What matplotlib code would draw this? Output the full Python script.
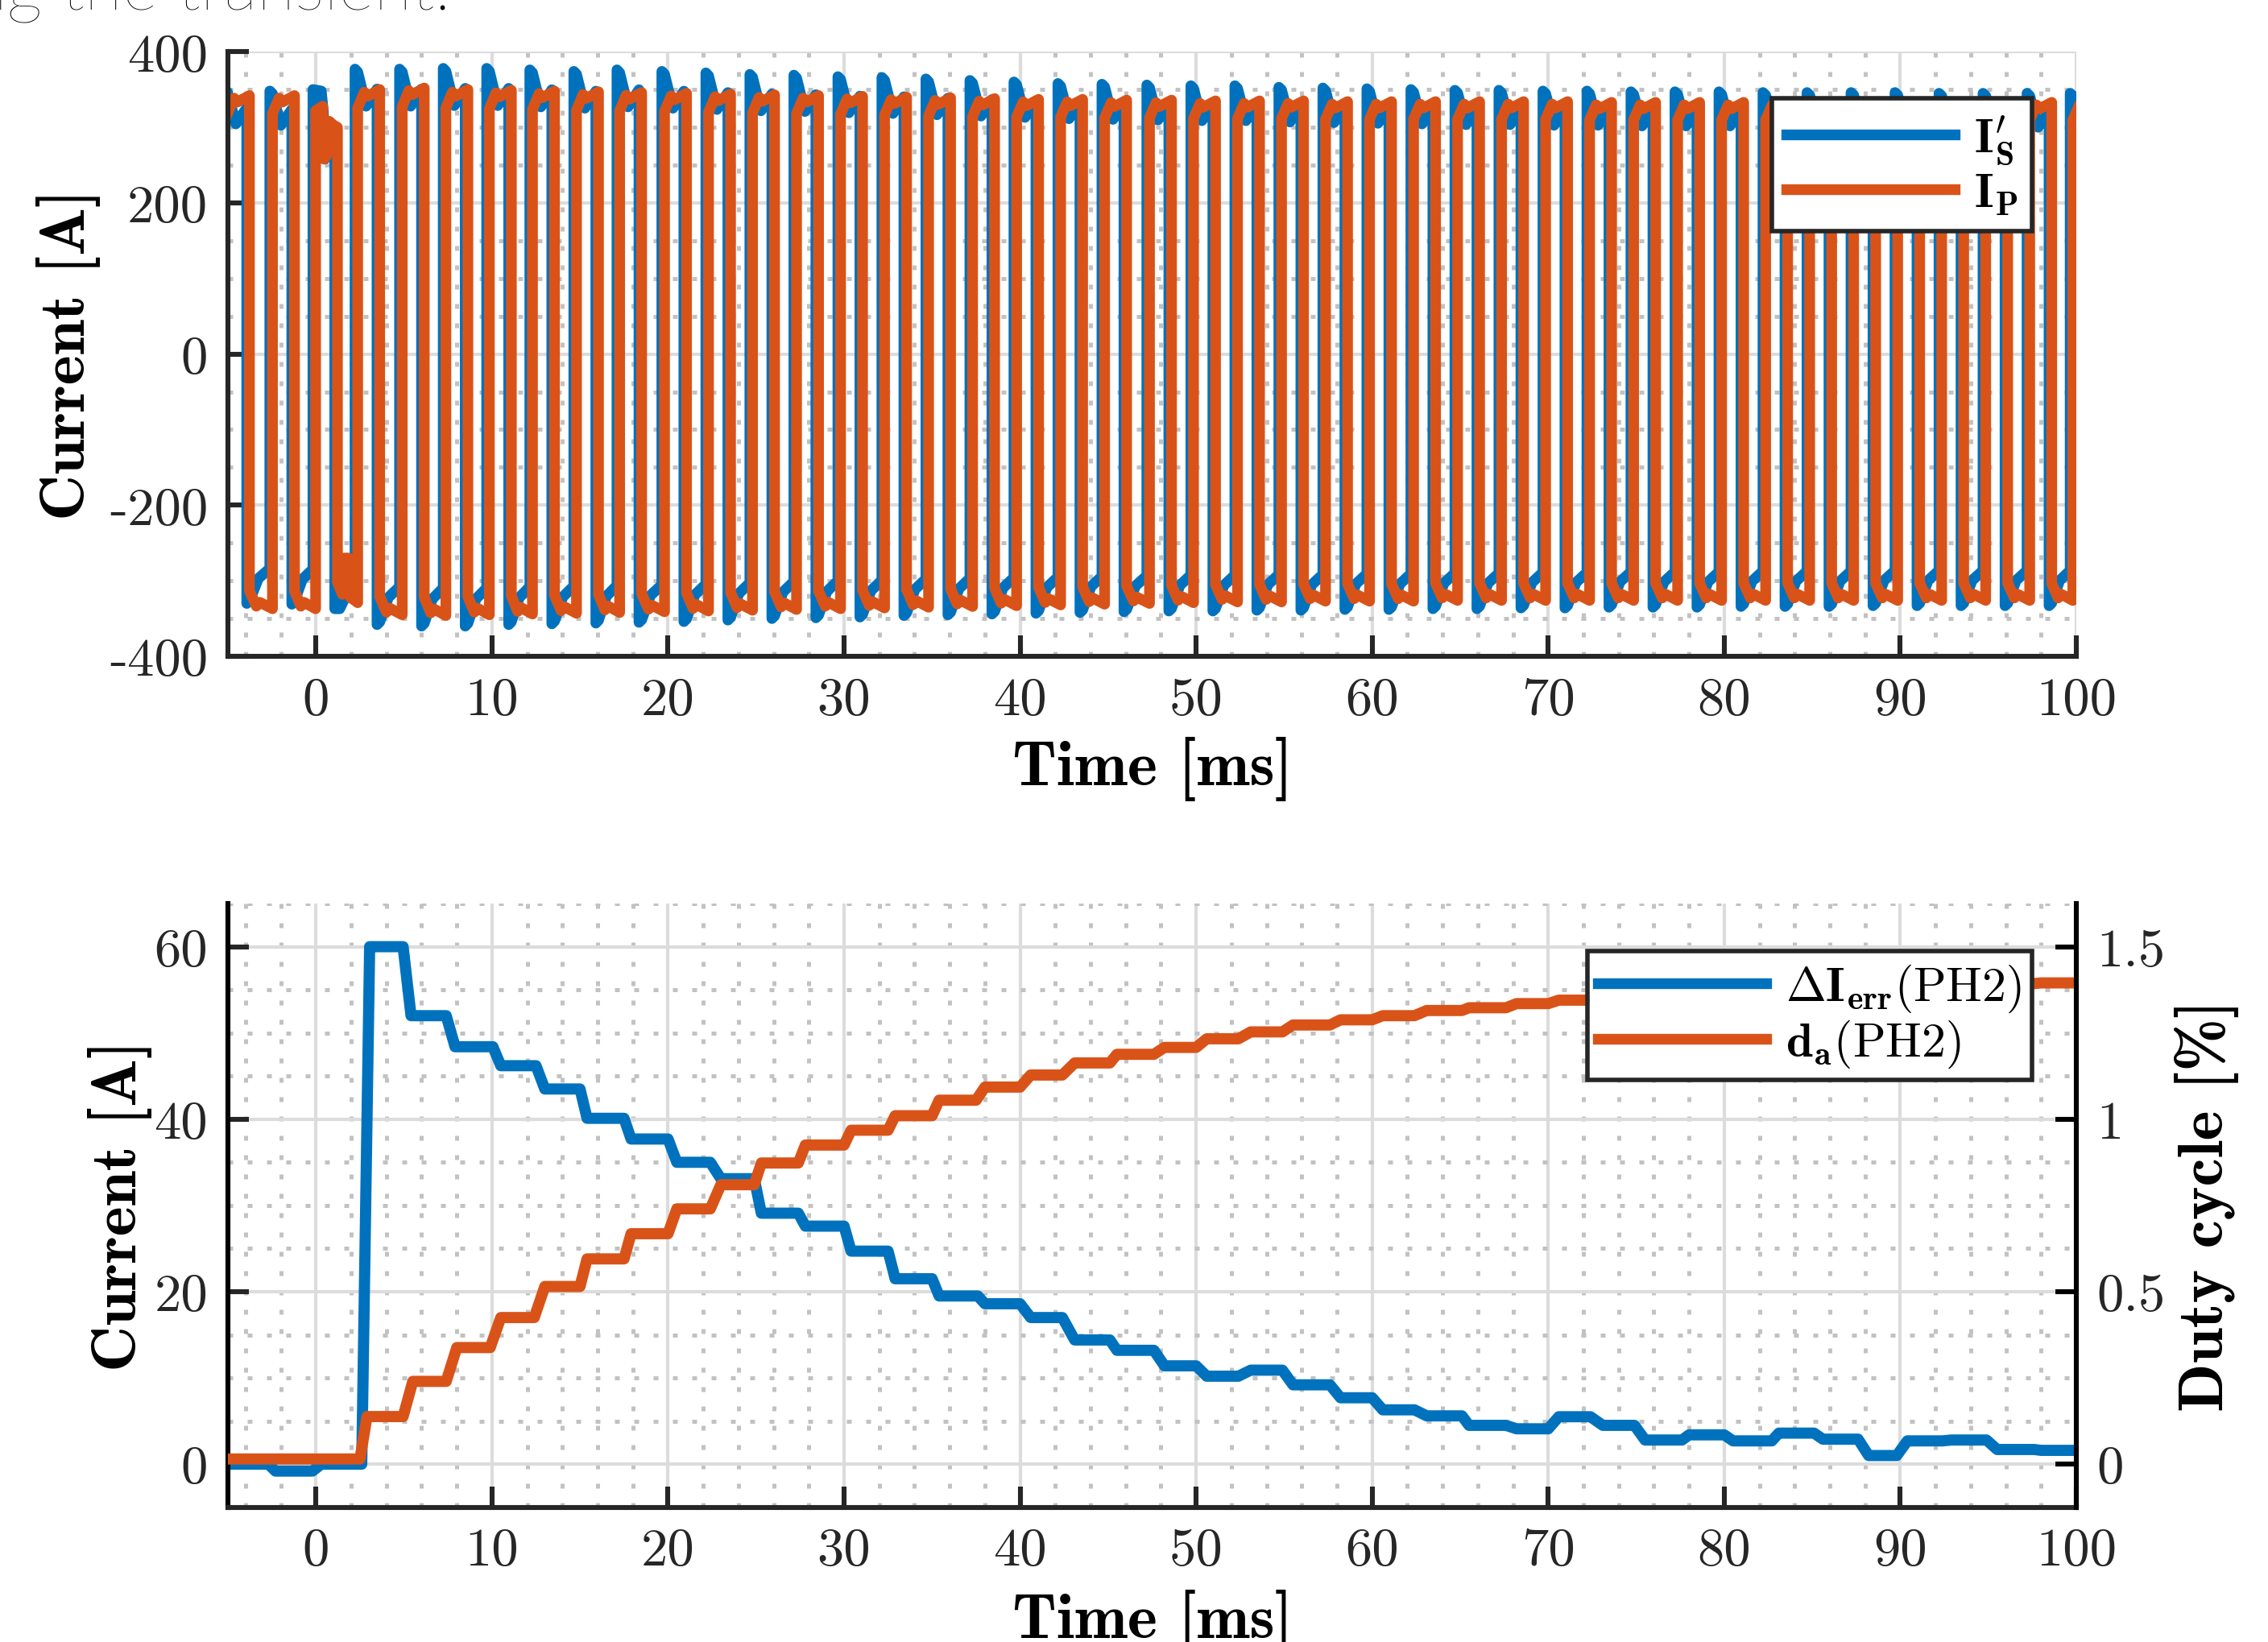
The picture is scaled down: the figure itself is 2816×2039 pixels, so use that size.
import matplotlib
matplotlib.use("Agg")
import matplotlib.pyplot as plt
from matplotlib.ticker import MultipleLocator

BLUE = "#0072BD"
ORANGE = "#D95319"
AX_COLOR = "#262626"

plt.rcParams["mathtext.fontset"] = "cm"
plt.rcParams["axes.unicode_minus"] = False

# %%
# Top panel: I'_S and I_P over the load step
# rising edge of I_P in each switching cycle [ms]
rise_t = [-5.03, -2.47, -0.02, 2.37, 4.9, 7.38, 9.85, 12.3, 14.8, 17.25,
          19.8, 22.3, 24.8, 27.3, 29.8, 32.3, 34.8, 37.3, 39.8, 42.3,
          44.8, 47.35, 49.85, 52.35, 54.85, 57.35, 59.85, 62.35, 64.85, 67.35,
          69.85, 72.35, 74.85, 77.35, 79.85, 82.35, 84.85, 87.35, 89.85, 92.35,
          94.85, 97.35, 99.8]
# I'_S peak in the positive / negative half of each cycle [A]
is_hi = [350, 348, 350, 377, 377, 378, 378, 376, 374, 376,
         374, 372, 370, 369, 367, 366, 364, 362, 360, 358,
         357, 356, 355, 355, 353, 352, 351, 350, 349, 349,
         348, 348, 347, 347, 347, 346, 346, 346, 346, 345,
         345, 345, 345]
is_lo = [330, 331, 337, 358, 360, 360, 358, 357, 356, 355,
         354, 352, 350, 349, 348, 346, 345, 344, 343, 342,
         341, 340, 340, 339, 339, 338, 338, 337, 337, 336,
         336, 335, 335, 335, 334, 334, 334, 333, 333, 333,
         333, 333, 333]
# I_P level at the end of the positive / negative half [A]
ip_hi = [342, 342, 305, 350, 352, 350, 349, 348, 347, 346,
         345, 344, 343, 342, 341, 340, 339, 338, 337, 337,
         336, 336, 335, 335, 335, 334, 334, 334, 334, 334,
         334, 333, 333, 333, 333, 333, 333, 333, 333, 333,
         333, 333, 333]
ip_lo = [337, 337, 329, 345, 346, 345, 344, 343, 342, 341,
         340, 339, 338, 337, 336, 335, 334, 333, 332, 331,
         330, 329, 328, 328, 327, 327, 327, 326, 326, 326,
         326, 326, 326, 326, 326, 326, 326, 326, 326, 326,
         326, 326, 326]

# shape of one half cycle (fraction of half, fraction of level)
IP_F = [0.0, 0.3, 0.45, 1.0]
IP_S = [0.93, 0.99, 0.975, 1.0]
IS_F = [0.0, 0.12, 0.5, 1.0]
IS_S_HI = [1.0, 0.99, 0.87, 0.93]
IS_S_LO = [1.0, 0.99, 0.9, 0.86]
HALF = 1.25   # ms
LEAD = 0.15   # I'_S switches slightly before I_P

# disturbed cycle right at the step (k = 2)
TRANSIENT_K = 2
tr_ip_t = [-0.02, 0.38, 0.45, 0.6, 0.75, 1.0, 1.22, 1.22, 1.5, 1.6, 1.85, 1.95, 2.2, 2.37]
tr_ip_v = [322, 328, 258, 262, 308, 303, 300, -302, -318, -270, -270, -322, -326, -329]
tr_is_t = [-0.17, 0.3, 0.42, 0.5, 0.65, 0.8, 1.07, 1.07, 1.35, 1.7, 2.22]
tr_is_v = [350, 348, 320, 258, 262, 305, 300, -337, -337, -320, -300]

# %%
# Bottom panel: current error and duty cycle of PH2
derr_t = [-5, -2.7, -2.3, -0.2, 0.3, 2.6, 3.05, 4.95, 5.4, 7.4,
          7.9, 10.05, 10.5, 12.5, 13.0, 15.0, 15.4, 17.5, 17.9, 20.0,
          20.5, 22.4, 23.0, 24.9, 25.3, 27.4, 27.8, 30.0, 30.4, 32.5,
          32.9, 35.0, 35.4, 37.6, 38.0, 40.0, 40.6, 42.4, 43.1, 45.1,
          45.5, 47.6, 48.2, 50.0, 50.6, 52.4, 53.1, 54.9, 55.5, 57.6,
          58.2, 60.0, 60.6, 62.4, 63.1, 65.1, 65.5, 67.6, 68.2, 70.0,
          70.6, 72.4, 73.1, 74.9, 75.5, 77.6, 78.0, 80.0, 80.5, 82.7,
          83.1, 85.1, 85.6, 87.6, 88.2, 89.8, 90.4, 92.4, 92.9, 94.9,
          95.5, 97.6, 98.0, 100.0]
derr_v = [0.0, 0.0, -0.8, -0.8, 0.0, 0.0, 60.0, 60.0, 52.0, 52.0,
          48.4, 48.4, 46.2, 46.2, 43.5, 43.5, 40.1, 40.1, 37.7, 37.7,
          35.0, 35.0, 33.1, 33.1, 29.1, 29.1, 27.6, 27.6, 24.7, 24.7,
          21.5, 21.5, 19.5, 19.5, 18.6, 18.6, 17.0, 17.0, 14.4, 14.4,
          13.2, 13.2, 11.4, 11.4, 10.2, 10.2, 10.9, 10.9, 9.2, 9.2,
          7.7, 7.7, 6.3, 6.3, 5.6, 5.6, 4.5, 4.5, 4.1, 4.1,
          5.5, 5.5, 4.5, 4.5, 2.8, 2.8, 3.4, 3.4, 2.7, 2.7,
          3.6, 3.6, 2.9, 2.9, 1.0, 1.0, 2.7, 2.7, 2.8, 2.8,
          1.7, 1.7, 1.6, 1.6]

duty_t = [-5, 2.5, 2.9, 4.95, 5.5, 7.4, 8.0, 9.9, 10.5, 12.4,
          13.0, 15.0, 15.4, 17.5, 17.9, 20.0, 20.5, 22.4, 23.0, 24.9,
          25.3, 27.4, 27.8, 30.0, 30.4, 32.5, 32.9, 35.0, 35.4, 37.5,
          38.0, 40.0, 40.6, 42.4, 43.1, 45.1, 45.5, 47.6, 48.2, 50.0,
          50.6, 52.4, 53.1, 54.9, 55.5, 57.6, 58.2, 60.0, 60.6, 62.4,
          63.1, 65.1, 65.5, 67.6, 68.2, 70.0, 70.6, 72.4, 73.1, 74.9,
          75.5, 77.6, 78.0, 80.0, 80.5, 82.7, 83.1, 85.1, 85.6, 87.6,
          88.2, 89.8, 90.4, 92.4, 92.9, 94.9, 95.5, 97.6, 98.0, 100.0]
duty_v = [0.015, 0.015, 0.138, 0.138, 0.24, 0.24, 0.338, 0.338, 0.425, 0.425,
          0.515, 0.515, 0.595, 0.595, 0.668, 0.668, 0.74, 0.74, 0.81, 0.81,
          0.873, 0.873, 0.925, 0.925, 0.968, 0.968, 1.01, 1.01, 1.055, 1.055,
          1.093, 1.093, 1.128, 1.128, 1.163, 1.163, 1.188, 1.188, 1.208, 1.208,
          1.233, 1.233, 1.253, 1.253, 1.273, 1.273, 1.288, 1.288, 1.30, 1.30,
          1.315, 1.315, 1.323, 1.323, 1.335, 1.335, 1.345, 1.345, 1.353, 1.353,
          1.36, 1.36, 1.368, 1.368, 1.373, 1.373, 1.378, 1.378, 1.383, 1.383,
          1.385, 1.385, 1.388, 1.388, 1.39, 1.39, 1.393, 1.393, 1.395, 1.395]


def build_currents():
    """Stitch the half-cycle shapes together into two polylines."""
    tp, vp, ts, vs = [], [], [], []
    n = len(rise_t)
    for k in range(n):
        r = rise_t[k]
        f = r + HALF
        rn = rise_t[k + 1] if k + 1 < n else r + 2 * HALF
        if k == TRANSIENT_K:
            tp += tr_ip_t
            vp += tr_ip_v
            ts += tr_is_t
            vs += tr_is_v
            continue
        for fr, sc in zip(IP_F, IP_S):
            tp.append(r + fr * (f - r))
            vp.append(sc * ip_hi[k])
        for fr, sc in zip(IP_F, IP_S):
            tp.append(f + fr * (rn - f))
            vp.append(-sc * ip_lo[k])
        for fr, sc in zip(IS_F, IS_S_HI):
            ts.append(r - LEAD + fr * (f - r))
            vs.append(sc * is_hi[k])
        for fr, sc in zip(IS_F, IS_S_LO):
            ts.append(f - LEAD + fr * (rn - f))
            vs.append(-sc * is_lo[k])
    return tp, vp, ts, vs


TICK_FS = 24
LABEL_FS = 28.5
LEG_FS = 21.5


def style_axes(ax, right=False):
    ax.grid(True, which="major", color="#dcdcdc", lw=1.5, ls="-")
    ax.grid(True, which="minor", color="#c2c2c2", lw=1.8, ls=(0, (1.2, 3.6)))
    ax.set_axisbelow(True)
    ax.spines["top"].set_visible(False)
    ax.spines["right"].set_visible(right)
    for s in ("left", "bottom", "right"):
        ax.spines[s].set_linewidth(2.2)
        ax.spines[s].set_color(AX_COLOR)
    ax.tick_params(which="major", direction="in", length=9.5, width=2.2,
                   color=AX_COLOR, labelsize=TICK_FS, pad=9, labelcolor=AX_COLOR)
    ax.tick_params(which="minor", length=0)
    ax.tick_params(axis="y", right=False)
    for lab in ax.get_xticklabels() + ax.get_yticklabels():
        lab.set_fontfamily("cmr10")


def add_legend(ax, handles, labels, anchor, borderpad=0.3):
    leg = ax.legend(handles, labels, loc="upper right", bbox_to_anchor=anchor,
                    fontsize=LEG_FS, handlelength=3.5, handletextpad=0.4,
                    borderpad=borderpad, labelspacing=0.08, fancybox=False,
                    framealpha=1, edgecolor=AX_COLOR, borderaxespad=0)
    leg.get_frame().set_linewidth(2.0)
    for h in leg.get_lines():
        h.set_linewidth(4.8)
    return leg


fig = plt.figure(figsize=(14.08, 10.2), dpi=200)
ax1 = fig.add_axes([0.1005, 0.6, 0.815, 0.368])
ax2 = fig.add_axes([0.1005, 0.082, 0.815, 0.3675])

fig.text(-0.0135, 1 - 12 / 2040, "ng the transient.", fontsize=31,
         family="Lato", fontweight="light", va="baseline", color="black")

# --- top panel
tp, vp, ts, vs = build_currents()
l_is, = ax1.plot(ts, vs, color=BLUE, lw=4.8, solid_joinstyle="round")
l_ip, = ax1.plot(tp, vp, color=ORANGE, lw=4.8, solid_joinstyle="round")
ax1.set_xlim(-5, 100)
ax1.set_ylim(-400, 400)
ax1.set_xticks(range(0, 101, 10))
ax1.set_yticks([-400, -200, 0, 200, 400])
ax1.set_yticklabels(["-400", "-200", "0", "200", "400"])
ax1.xaxis.set_minor_locator(MultipleLocator(2))
ax1.yaxis.set_minor_locator(MultipleLocator(50))
style_axes(ax1)
ax1.set_xlabel("Time [ms]", fontfamily="cmb10", fontsize=LABEL_FS, va="top")
ax1.xaxis.set_label_coords(0.5, -0.132)
ax1.set_ylabel("Current [A]", fontfamily="cmb10", fontsize=LABEL_FS)
ax1.yaxis.set_label_coords(-0.069, 0.5)
add_legend(ax1, [l_is, l_ip],
           [r"$\mathbf{I}^{\prime}_{\mathbf{S}}$", r"$\mathbf{I}_{\mathbf{P}}$"],
           (0.976, 0.923))

# --- bottom panel
l_err, = ax2.plot(derr_t, derr_v, color=BLUE, lw=5.0)
ax2.set_xlim(-5, 100)
ax2.set_ylim(-5, 65)
ax2.set_xticks(range(0, 101, 10))
ax2.set_yticks([0, 20, 40, 60])
ax2.xaxis.set_minor_locator(MultipleLocator(2))
ax2.yaxis.set_minor_locator(MultipleLocator(5))
style_axes(ax2)
ax2.spines["left"].set_color("black")
ax2.set_xlabel("Time [ms]", fontfamily="cmb10", fontsize=LABEL_FS, va="top")
ax2.xaxis.set_label_coords(0.5, -0.135)
ax2.set_ylabel("Current [A]", fontfamily="cmb10", fontsize=LABEL_FS)
ax2.yaxis.set_label_coords(-0.041, 0.5)

ax3 = ax2.twinx()
l_duty, = ax3.plot(duty_t, duty_v, color=ORANGE, lw=5.0)
ax3.set_ylim(-0.125, 1.625)
ax3.set_yticks([0, 0.5, 1, 1.5])
ax3.set_yticklabels(["0", "0.5", "1", "1.5"])
for s in ("top", "left", "bottom"):
    ax3.spines[s].set_visible(False)
ax3.spines["right"].set_linewidth(2.2)
ax3.spines["right"].set_color("black")
ax3.tick_params(axis="y", direction="in", length=9.5, width=2.2, color="black",
                labelsize=TICK_FS, pad=9, labelcolor=AX_COLOR)
for lab in ax3.get_yticklabels():
    lab.set_fontfamily("cmr10")
ax3.set_ylabel("Duty cycle [%]", fontfamily="cmb10", fontsize=LABEL_FS)
ax3.yaxis.set_label_coords(1.053, 0.5)

add_legend(ax3, [l_err, l_duty],
           [r"$\boldsymbol{\Delta}\mathbf{I}_{\mathbf{err}}\mathrm{(PH2)}$",
            r"$\mathbf{d}_{\mathbf{a}}\mathrm{(PH2)}$"],
           (0.976, 0.921), borderpad=0.22)

fig.savefig("out.png", dpi=200)
